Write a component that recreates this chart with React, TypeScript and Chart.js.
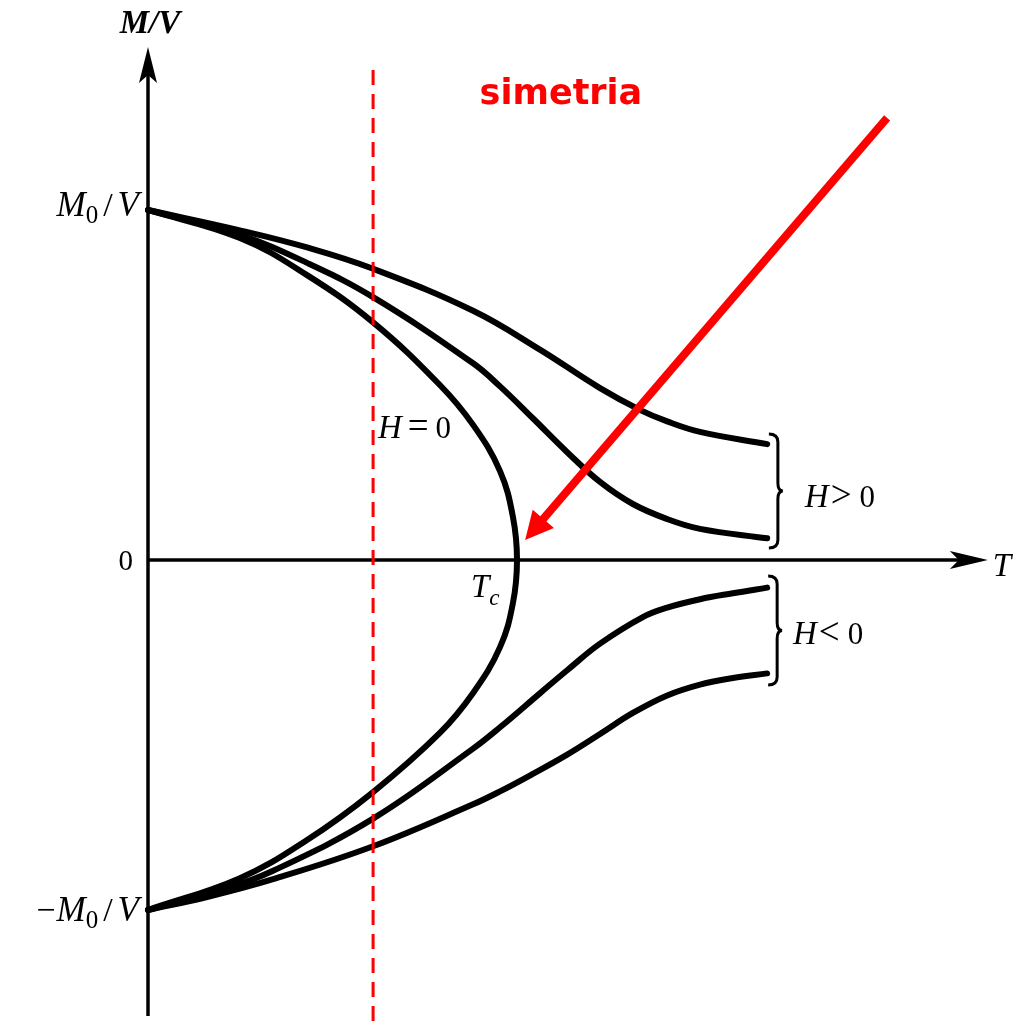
import React, { useEffect, useRef } from "react";
import { Chart, registerables } from "chart.js";

Chart.register(...registerables);

// T in units of Tc, M/V in units of M0/V
const h0T = [0, 0.249, 0.431, 0.61, 0.791, 0.881, 0.954, 0.989, 1.0, 0.989, 0.954, 0.881, 0.791, 0.61, 0.431, 0.249, 0];
const h0M = [1, 0.92, 0.814, 0.679, 0.5, 0.386, 0.254, 0.123, 0, -0.123, -0.249, -0.38, -0.494, -0.663, -0.8, -0.909, -1];

const hPosHighT = [0, 0.249, 0.431, 0.61, 0.881, 1.062, 1.225, 1.333, 1.407, 1.496, 1.678];
const hPosHighM = [1, 0.942, 0.893, 0.832, 0.712, 0.601, 0.491, 0.429, 0.396, 0.366, 0.331];

const hPosLowT = [0, 0.249, 0.431, 0.61, 0.881, 0.954, 1.043, 1.136, 1.225, 1.314, 1.407, 1.496, 1.678];
const hPosLowM = [1, 0.929, 0.849, 0.751, 0.562, 0.496, 0.405, 0.308, 0.223, 0.16, 0.117, 0.089, 0.062];

const hNegNearT = [0, 0.203, 0.339, 0.61, 0.881, 0.954, 1.062, 1.136, 1.225, 1.341, 1.407, 1.496, 1.585, 1.678];
const hNegNearM = [-1, -0.942, -0.888, -0.739, -0.539, -0.478, -0.381, -0.315, -0.239, -0.163, -0.136, -0.112, -0.095, -0.079];

const hNegFarT = [0, 0.16, 0.339, 0.61, 0.881, 0.954, 1.043, 1.136, 1.225, 1.314, 1.407, 1.496, 1.585, 1.678];
const hNegFarM = [-1, -0.963, -0.912, -0.818, -0.698, -0.661, -0.611, -0.556, -0.497, -0.437, -0.387, -0.356, -0.337, -0.324];

const yTickValues = [1, 0, -1];
const yTickLabels = ["M_0/V", "0", "−M_0/V"];
const symmetryT = 0.61;

const RED = "#ff0000";
const SERIF = '"Liberation Serif", "DejaVu Serif", serif';
const IT = `italic 33px ${SERIF}`;
const RM = `31px ${SERIF}`;
const REL = `37px ${SERIF}`;
const TIT = `italic 35px ${SERIF}`;
const TRM = `34px ${SERIF}`;
const TSUB = `25px ${SERIF}`;

type Part = { t: string; f: string; dx?: number; dy?: number };

function rich(ctx: CanvasRenderingContext2D, parts: Part[], x: number, y: number, align: "left" | "right" | "center") {
  let w = 0;
  parts.forEach((p) => {
    ctx.font = p.f;
    w += (p.dx || 0) + ctx.measureText(p.t).width;
  });
  let cx = align === "left" ? x : align === "right" ? x - w : x - w / 2;
  ctx.textAlign = "left";
  ctx.textBaseline = "alphabetic";
  parts.forEach((p) => {
    ctx.font = p.f;
    cx += p.dx || 0;
    ctx.fillText(p.t, cx, y + (p.dy || 0));
    cx += ctx.measureText(p.t).width;
  });
}

function tickParts(label: string): Part[] {
  if (label === "0") return [{ t: "0", f: `29px ${SERIF}` }];
  const parts: Part[] = [];
  if (label.startsWith("−")) parts.push({ t: "−", f: TRM });
  parts.push({ t: "M", f: TIT, dx: label.startsWith("−") ? 1 : 0 });
  parts.push({ t: "0", f: TSUB, dy: 7, dx: 0 });
  parts.push({ t: "/", f: TRM, dx: 5 });
  parts.push({ t: "V", f: TIT, dx: 5 });
  return parts;
}

function brace(ctx: CanvasRenderingContext2D, x: number, top: number, bot: number) {
  const mid = (top + bot) / 2;
  ctx.beginPath();
  ctx.moveTo(x - 9, top);
  ctx.quadraticCurveTo(x, top, x, top + 8);
  ctx.lineTo(x, mid - 8);
  ctx.quadraticCurveTo(x, mid, x + 5, mid);
  ctx.quadraticCurveTo(x, mid, x, mid + 8);
  ctx.lineTo(x, bot - 8);
  ctx.quadraticCurveTo(x, bot, x - 9, bot);
  ctx.stroke();
}

const overlay = {
  id: "overlay",
  beforeDatasetsDraw(chart: any) {
    const { ctx } = chart;
    const X = (v: number) => chart.scales.x.getPixelForValue(v);
    const Y = (v: number) => chart.scales.y.getPixelForValue(v);
    ctx.save();
    ctx.strokeStyle = "#000";
    ctx.fillStyle = "#000";
    ctx.lineWidth = 3.5;
    // y axis
    const x0 = X(0);
    const yTip = Y(1.466);
    ctx.beginPath();
    ctx.moveTo(x0, chart.height - 8);
    ctx.lineTo(x0, yTip + 20);
    ctx.stroke();
    ctx.beginPath();
    ctx.moveTo(x0, yTip);
    ctx.lineTo(x0 - 9, yTip + 36);
    ctx.lineTo(x0, yTip + 28);
    ctx.lineTo(x0 + 9, yTip + 36);
    ctx.closePath();
    ctx.fill();
    // x axis
    const y0 = Y(0);
    const xTip = X(2.276);
    ctx.beginPath();
    ctx.moveTo(x0, y0);
    ctx.lineTo(xTip - 20, y0);
    ctx.stroke();
    ctx.beginPath();
    ctx.moveTo(xTip, y0);
    ctx.lineTo(xTip - 38, y0 - 9);
    ctx.lineTo(xTip - 29, y0);
    ctx.lineTo(xTip - 38, y0 + 9);
    ctx.closePath();
    ctx.fill();
    ctx.restore();
  },
  afterDatasetsDraw(chart: any) {
    const { ctx } = chart;
    const X = (v: number) => chart.scales.x.getPixelForValue(v);
    const Y = (v: number) => chart.scales.y.getPixelForValue(v);
    ctx.save();

    // symmetry dashed line
    ctx.strokeStyle = RED;
    ctx.lineWidth = 3;
    ctx.setLineDash([15, 9]);
    ctx.beginPath();
    ctx.moveTo(X(symmetryT), Y(1.4));
    ctx.lineTo(X(symmetryT), chart.height);
    ctx.stroke();
    ctx.setLineDash([]);

    // red arrow
    const tx = X(2.003), ty = Y(1.263);
    const hx = X(1.022), hy = Y(0.057);
    const len = Math.hypot(tx - hx, ty - hy);
    const ux = (tx - hx) / len, uy = (ty - hy) / len;
    const px = -uy, py = ux;
    ctx.lineWidth = 8;
    ctx.lineCap = "butt";
    ctx.beginPath();
    ctx.moveTo(tx, ty);
    ctx.lineTo(hx + ux * 20, hy + uy * 20);
    ctx.stroke();
    ctx.fillStyle = RED;
    ctx.beginPath();
    ctx.moveTo(hx, hy);
    ctx.lineTo(hx + ux * 28 + px * 14, hy + uy * 28 + py * 14);
    ctx.lineTo(hx + ux * 28 - px * 14, hy + uy * 28 - py * 14);
    ctx.closePath();
    ctx.fill();

    // simetria
    ctx.font = `bold 35px "DejaVu Sans", sans-serif`;
    ctx.textAlign = "center";
    ctx.textBaseline = "alphabetic";
    ctx.fillText("simetria", X(1.119), Y(1.303));

    // black texts
    ctx.fillStyle = "#000";
    ctx.strokeStyle = "#000";
    rich(ctx, [{ t: "M/V", f: `bold italic 33px ${SERIF}` }], X(0) + 2, Y(1.506), "center");
    yTickValues.forEach((v, i) => {
      const lab = yTickLabels[i];
      const xr = lab === "0" ? X(0) - 15 : X(0) - 9;
      const yb = lab === "0" ? Y(v) + 10 : Y(v) + (v > 0 ? 6 : 11);
      rich(ctx, tickParts(lab), xr, yb, "right");
    });
    rich(ctx, [{ t: "T", f: IT }], X(2.276) + 5, Y(0) + 16, "left");
    rich(ctx, [{ t: "T", f: IT }, { t: "c", f: `italic 23px ${SERIF}`, dy: 8 }], X(1) - 46, Y(0) + 37, "left");
    rich(ctx, [{ t: "H", f: IT }, { t: "=", f: REL, dx: 6 }, { t: "0", f: RM, dx: 7 }], X(0.623), Y(0.349), "left");
    rich(ctx, [{ t: "H", f: IT }, { t: ">", f: REL, dx: 2 }, { t: "0", f: RM, dx: 8 }], X(1.78), Y(0.151), "left");
    rich(ctx, [{ t: "H", f: IT }, { t: "<", f: REL, dx: 2 }, { t: "0", f: RM, dx: 8 }], X(1.748), Y(-0.24), "left");

    // braces
    ctx.lineWidth = 3;
    brace(ctx, X(1.707), Y(0.36), Y(0.034));
    brace(ctx, X(1.705), Y(-0.046), Y(-0.357));

    ctx.restore();
  },
};

function pts(ts: number[], ms: number[]) {
  return ts.map((t, i) => ({ x: t, y: ms[i] }));
}

export default function App() {
  const ref = useRef<HTMLCanvasElement>(null);
  useEffect(() => {
    if (!ref.current) return;
    const line = (data: { x: number; y: number }[]) => ({
      data,
      showLine: true,
      borderColor: "#000",
      borderWidth: 6,
      pointRadius: 0,
      tension: 0.4,
      cubicInterpolationMode: "default",
      borderCapStyle: "round",
      fill: false,
    });
    const chart = new Chart(ref.current, {
      type: "scatter",
      data: {
        datasets: [
          line(pts(h0T, h0M)),
          line(pts(hPosHighT, hPosHighM)),
          line(pts(hPosLowT, hPosLowM)),
          line(pts(hNegNearT, hNegNearM)),
          line(pts(hNegFarT, hNegFarM)),
        ] as any,
      },
      options: {
        animation: false,
        responsive: false,
        layout: { padding: 0 },
        plugins: { legend: { display: false }, tooltip: { enabled: false } },
        scales: {
          x: { type: "linear", display: false, min: -148 / 369, max: (1017 - 148) / 369 },
          y: { type: "linear", display: false, min: -(1024 - 560) / 350, max: 560 / 350 },
        },
      },
      plugins: [overlay],
    });
    return () => chart.destroy();
  }, []);
  return (
    <div style={{ position: "absolute", left: 0, top: 0, width: 1017, height: 1024, background: "#fff" }}>
      <canvas ref={ref} width={1017} height={1024} style={{ display: "block" }} />
    </div>
  );
}
